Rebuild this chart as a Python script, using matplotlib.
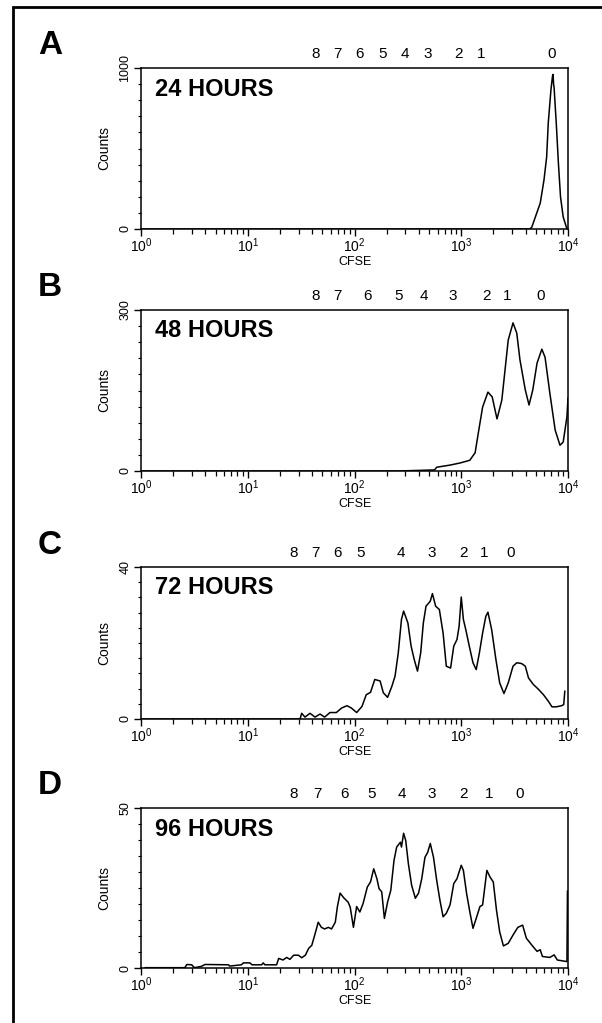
import numpy as np
import matplotlib
matplotlib.use("Agg")
import matplotlib.pyplot as plt
from matplotlib.patches import Rectangle
from matplotlib.ticker import FixedLocator, NullFormatter

plt.rcParams['font.family'] = ['Liberation Sans', 'DejaVu Sans']
plt.rcParams['mathtext.fontset'] = 'custom'
plt.rcParams['mathtext.rm'] = 'Liberation Sans'
plt.rcParams['mathtext.it'] = 'Liberation Sans:italic'
plt.rcParams['mathtext.bf'] = 'Liberation Sans:bold'

W, H = 602, 1023

# ---- data (log10 CFSE, counts) ----
panels = ['A', 'B', 'C', 'D']
titles = ['24 HOURS', '48 HOURS', '72 HOURS', '96 HOURS']
ymax = [1000, 300, 40, 50]
div_labels = ['8', '7', '6', '5', '4', '3', '2', '1', '0']

a_log = [0.0, 3.64, 3.66, 3.74, 3.775, 3.80, 3.815, 3.84, 3.855, 3.86,
         3.865, 3.87, 3.89, 3.91, 3.93, 3.955, 3.99]
a_cnt = [0, 0, 10, 161, 304, 447, 658, 863, 950, 960,
         900, 876, 658, 410, 199, 75, 0]

b_log = [0.0, 2.41, 2.75, 2.77, 2.895, 2.99, 3.08, 3.13, 3.16, 3.20, 3.25,
         3.29, 3.335, 3.38, 3.41, 3.44, 3.485, 3.52, 3.55, 3.60, 3.635,
         3.67, 3.71, 3.755, 3.785, 3.83, 3.88, 3.925, 3.955, 3.99, 4.0]
b_cnt = [0, 0, 2, 7, 11, 15, 20, 34, 71, 119, 147,
         138, 97, 132, 188, 244, 276, 257, 207, 151, 123,
         151, 201, 227, 212, 145, 76, 48, 54, 101, 136]

c_log = [0.0, 1.49, 1.505, 1.536, 1.583, 1.63, 1.677, 1.72, 1.77, 1.83,
         1.88, 1.93, 1.97, 2.02, 2.07, 2.11, 2.15, 2.19, 2.24, 2.27,
         2.31, 2.35, 2.38, 2.41, 2.44, 2.46, 2.50, 2.53, 2.56, 2.59,
         2.62, 2.645, 2.67, 2.71, 2.73, 2.76, 2.795, 2.83, 2.86, 2.90,
         2.93, 2.96, 2.98, 3.0, 3.02, 3.045, 3.075, 3.11, 3.14, 3.17,
         3.20, 3.23, 3.25, 3.285, 3.325, 3.36, 3.40, 3.44, 3.485, 3.52,
         3.565, 3.60, 3.63, 3.675, 3.72, 3.77, 3.815, 3.85, 3.89, 3.94,
         3.96, 3.97]
c_cnt = [0, 0, 1.5, 0.5, 1.5, 0.5, 1.3, 0.5, 1.7, 1.7,
         2.9, 3.5, 2.9, 1.7, 3.3, 6.4, 7.0, 10.4, 10.0, 6.9,
         5.7, 8.6, 11.3, 17.4, 26.2, 28.4, 25.3, 19.2, 15.6, 12.6,
         17.4, 25.3, 29.7, 31.0, 33.0, 29.7, 28.8, 22.6, 13.9, 13.4,
         19.2, 20.9, 24.4, 32.1, 26.2, 23.2, 19.2, 14.8, 13.0, 17.4,
         22.6, 27.0, 28.1, 23.5, 15.6, 9.5, 6.7, 9.5, 13.9, 14.8,
         14.6, 13.9, 10.8, 9.1, 7.9, 6.4, 4.7, 3.2, 3.2, 3.5,
         3.8, 7.3]

d_log = [0.04, 0.41, 0.43, 0.475, 0.50, 0.565, 0.60, 0.82, 0.83, 0.94,
         0.96, 1.02, 1.04, 1.13, 1.145, 1.16, 1.27, 1.29, 1.33, 1.365,
         1.395, 1.43, 1.475, 1.505, 1.54, 1.57, 1.60, 1.63, 1.66, 1.69,
         1.72, 1.755, 1.785, 1.82, 1.84, 1.865, 1.90, 1.94, 1.96, 1.99,
         2.02, 2.05, 2.08, 2.12, 2.15, 2.18, 2.21, 2.23, 2.255, 2.28,
         2.31, 2.34, 2.37, 2.395, 2.43, 2.44, 2.46, 2.48, 2.505, 2.535,
         2.57, 2.60, 2.63, 2.66, 2.685, 2.71, 2.74, 2.77, 2.80, 2.83,
         2.86, 2.895, 2.93, 2.96, 2.975, 3.0, 3.02, 3.05, 3.08, 3.11,
         3.145, 3.175, 3.20, 3.24, 3.27, 3.30, 3.33, 3.36, 3.395, 3.44,
         3.485, 3.53, 3.575, 3.61, 3.66, 3.71, 3.74, 3.76, 3.83, 3.87,
         3.90, 3.99, 3.995]
d_cnt = [0.1, 0.1, 1.1, 1.0, 0.1, 0.5, 1.1, 1.0, 0.6, 1.0,
         1.6, 1.6, 1.0, 1.0, 1.6, 1.0, 1.0, 3.0, 2.5, 3.3,
         2.7, 4.0, 4.0, 3.2, 4.0, 6.1, 7.1, 10.6, 14.3, 12.7,
         12.2, 12.7, 12.2, 14.3, 19.2, 23.4, 21.9, 20.6, 19.0, 12.7,
         19.2, 17.5, 20.1, 25.3, 26.9, 31.0, 27.9, 24.8, 23.8, 15.5,
         20.6, 24.3, 33.6, 37.8, 39.3, 37.8, 42.1, 39.8, 32.5, 25.9,
         21.8, 23.4, 27.9, 34.6, 36.1, 38.9, 34.6, 27.4, 21.2, 16.0,
         17.1, 19.7, 26.4, 27.9, 29.5, 32.1, 30.5, 23.3, 17.6, 12.4,
         16.0, 19.2, 19.7, 30.5, 28.4, 26.9, 18.1, 11.3, 6.9, 7.7,
         10.3, 12.7, 13.4, 9.3, 7.2, 5.2, 5.7, 3.6, 3.3, 4.1,
         2.5, 2.0, 24.0]

# CFSE positions of the division numbers above each panel
a_div = [43, 69, 112, 182, 296, 490, 950, 1530, 7080]
b_div = [43, 69, 131, 261, 448, 837, 1710, 2680, 5580]
c_div = [27, 43, 70, 115, 273, 532, 1040, 1630, 2920]
d_div = [27, 45, 81, 146, 279, 532, 1040, 1820, 3550]

logs = [a_log, b_log, c_log, d_log]
cnts = [a_cnt, b_cnt, c_cnt, d_cnt]
divs = [a_div, b_div, c_div, d_div]

# ---- layout in pixels ----
left, right = 141, 568
tops = [68, 310, 567, 808]
bottoms = [229, 471, 719, 968]

fig = plt.figure(figsize=(W / 100, H / 100), dpi=100)
fig.patch.set_facecolor('white')

# frame: only left and top edges visible
fig.add_artist(Rectangle((13 / W, -0.05), 2.0, 1 - 7 / H + 0.05,
                         transform=fig.transFigure, fill=False,
                         edgecolor='black', linewidth=2.0))

xt_labels = [r'$\mathregular{10^{%d}}$' % k for k in range(5)]
minor_x = [m * 10 ** k for k in range(4) for m in range(2, 10)]

for i in range(4):
    t, b = tops[i], bottoms[i]
    ax = fig.add_axes([left / W, 1 - b / H, (right - left) / W, (b - t) / H])
    ax.plot(10 ** np.array(logs[i]), cnts[i], color='black', lw=1.1)
    ax.set_xscale('log')
    ax.set_xlim(1, 10000)
    ax.set_ylim(0, ymax[i])

    ax.xaxis.set_major_locator(FixedLocator([1, 10, 100, 1000, 10000]))
    ax.set_xticklabels(xt_labels)
    ax.xaxis.set_minor_locator(FixedLocator(minor_x))
    ax.xaxis.set_minor_formatter(NullFormatter())
    ax.yaxis.set_major_locator(FixedLocator([0, ymax[i]]))
    ax.set_yticklabels(['0', str(ymax[i])])
    ax.yaxis.set_minor_locator(FixedLocator(list(np.linspace(0, ymax[i], 11))))

    ax.tick_params(axis='x', which='major', direction='out', length=5,
                   width=1.0, labelsize=10, pad=0)
    ax.tick_params(axis='x', which='minor', direction='out', length=3.5, width=0.9)
    ax.tick_params(axis='y', which='major', direction='out', length=5,
                   width=1.0, labelsize=9, pad=2, labelrotation=90)
    ax.tick_params(axis='y', which='minor', direction='out', length=2, width=0.8)
    for lab in ax.get_yticklabels():
        lab.set_va('center')
    for s in ax.spines.values():
        s.set_linewidth(1.1)

    # division numbers
    for v, lab in zip(divs[i], div_labels):
        ax.text(v, 1 + 14 / (b - t), lab, transform=ax.get_xaxis_transform(),
                ha='center', va='center', fontsize=11)

    fig.text(155 / W, 1 - (t + 21) / H, titles[i], fontsize=17,
             fontweight='bold', ha='left', va='center')
    fig.text(38 / W, 1 - (t - 22) / H, panels[i], fontsize=24,
             fontweight='bold', ha='left', va='center')
    fig.text(104 / W, 1 - ((t + b) / 2) / H, 'Counts', rotation=90,
             fontsize=10, ha='center', va='center')
    fig.text(355 / W, 1 - (b + 33) / H, 'CFSE', fontsize=9,
             ha='center', va='center')

fig.savefig('out.png', dpi=100, facecolor='white')
